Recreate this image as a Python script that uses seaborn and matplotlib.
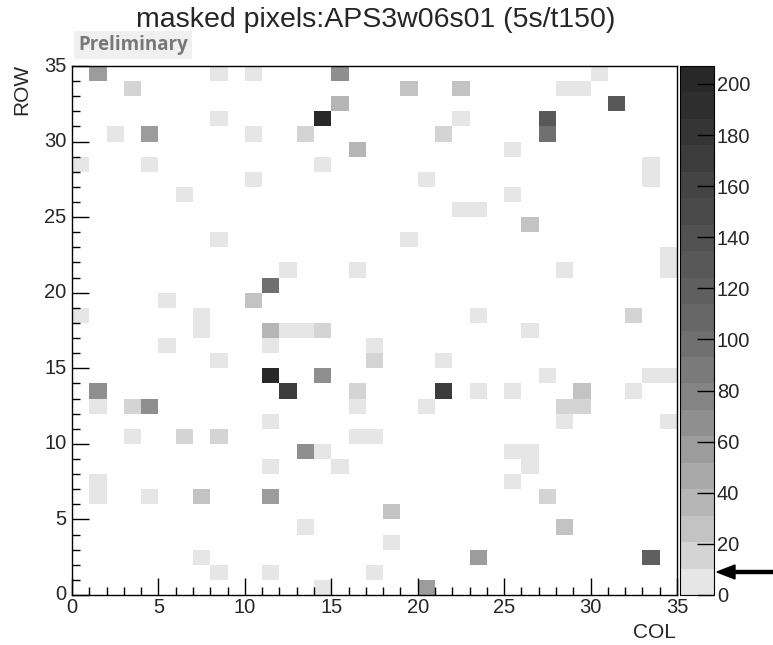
import numpy as np
import pandas as pd
import matplotlib
matplotlib.use("Agg")
import matplotlib.pyplot as plt
from matplotlib.colors import ListedColormap
import seaborn as sns

# ---- data: masked pixel counts (col, row, count) ----
cols = [1, 8, 10, 15, 30,
        3, 19, 22, 28, 29,
        15, 31,
        8, 14, 22, 27,
        2, 4, 10, 13, 21, 27,
        16, 25,
        0, 4, 14, 33,
        10, 20, 33,
        6, 25,
        22, 23,
        26,
        8, 19,
        34,
        12, 16, 28, 34,
        11,
        5, 10,
        0, 7, 23, 32,
        7, 11, 12, 13, 14, 26,
        5, 11, 17,
        8, 17, 21,
        11, 14, 27, 33, 34,
        1, 12, 16, 21, 23, 25, 29, 32,
        1, 3, 4, 16, 20, 28, 29,
        11, 28, 34,
        3, 6, 8, 16, 17,
        13, 14, 25, 26,
        11, 15, 26,
        1, 25,
        1, 4, 7, 11, 27,
        18,
        13, 28,
        18,
        7, 23, 33,
        8, 11, 17,
        14, 20]
rows = [34, 34, 34, 34, 34,
        33, 33, 33, 33, 33,
        32, 32,
        31, 31, 31, 31,
        30, 30, 30, 30, 30, 30,
        29, 29,
        28, 28, 28, 28,
        27, 27, 27,
        26, 26,
        25, 25,
        24,
        23, 23,
        22,
        21, 21, 21, 21,
        20,
        19, 19,
        18, 18, 18, 18,
        17, 17, 17, 17, 17, 17,
        16, 16, 16,
        15, 15, 15,
        14, 14, 14, 14, 14,
        13, 13, 13, 13, 13, 13, 13, 13,
        12, 12, 12, 12, 12, 12, 12,
        11, 11, 11,
        10, 10, 10, 10, 10,
        9, 9, 9, 9,
        8, 8, 8,
        7, 7,
        6, 6, 6, 6, 6,
        5,
        4, 4,
        3,
        2, 2, 2,
        1, 1, 1,
        0, 0]
counts = [55, 5, 5, 65, 5,
          15, 25, 25, 5, 5,
          38, 128,
          5, 205, 5, 128,
          5, 55, 5, 15, 15, 98,
          38, 5,
          5, 5, 5, 5,
          5, 5, 5,
          5, 5,
          5, 5,
          25,
          5, 5,
          5,
          5, 5, 5, 5,
          100,
          5, 25,
          5, 5, 5, 15,
          5, 38, 5, 5, 15, 5,
          5, 5, 5,
          5, 15, 5,
          202, 65, 5, 5, 5,
          65, 168, 15, 170, 5, 5, 25, 5,
          5, 15, 65, 5, 5, 15, 15,
          5, 5, 5,
          5, 15, 15, 5, 5,
          65, 5, 5, 5,
          5, 5, 5,
          5, 5,
          5, 5, 25, 55, 15,
          25,
          5, 25,
          5,
          5, 55, 118,
          5, 5, 5,
          5, 55]

z_ticks = [0, 20, 40, 60, 80, 100, 120, 140, 160, 180, 200]
axis_ticks = [0, 5, 10, 15, 20, 25, 30, 35]

n = 35
grid = np.zeros((n, n))
for c, r, v in zip(cols, rows, counts):
    grid[r, c] = v
df = pd.DataFrame(grid)

band_colors = ["#e6e6e6", "#d4d4d4", "#c3c3c3", "#b6b6b6", "#a9a9a9",
               "#9c9c9c", "#8f8f8f", "#848484", "#7a7a7a", "#707070",
               "#676767", "#5f5f5f", "#585858", "#515151", "#4a4a4a",
               "#444444", "#3c3c3c", "#353535", "#2e2e2e", "#282828"]
cmap = ListedColormap(band_colors)

sns.set_style("ticks")
plt.rcParams["font.family"] = ["Liberation Sans", "DejaVu Sans"]
plt.rcParams["axes.axisbelow"] = False

W, H = 773, 645
fig = plt.figure(figsize=(W / 100, H / 100), dpi=100)
x0, x1, y0, y1 = 72, 677, 66, 595
ax = fig.add_axes([x0 / W, (H - y1) / H, (x1 - x0) / W, (y1 - y0) / H])
cax = fig.add_axes([680 / W, (H - y1) / H, 34 / W, (y1 - y0) / H])

sns.heatmap(df, ax=ax, cbar_ax=cax, cmap=cmap, vmin=0, vmax=207,
            mask=(grid == 0), linewidths=0)

fs = 14.5
ax.set_xlim(0, n)
ax.set_ylim(0, n)
ax.set_xticks(axis_ticks)
ax.set_yticks(axis_ticks)
ax.set_xticklabels([str(t) for t in axis_ticks], rotation=0, fontsize=fs)
ax.set_yticklabels([str(t) for t in axis_ticks], rotation=0, fontsize=fs)
ax.set_xticks(np.arange(0, n + 1, 1), minor=True)
ax.set_yticks(np.arange(0, n + 1, 1), minor=True)
ax.tick_params(which="major", direction="in", length=12, width=1, color="black",
               left=True, bottom=True, top=False, right=False, pad=2)
ax.tick_params(which="minor", direction="in", length=6, width=1, color="black",
               left=True, bottom=True, top=False, right=False)
ax.tick_params(axis="y", pad=4)
ax.set_xlabel("")
ax.set_ylabel("")
ax.set_axisbelow(False)
for sp in ax.spines.values():
    sp.set_visible(True)
    sp.set_color("black")
    sp.set_linewidth(1)

cb = ax.collections[0].colorbar
cb.outline.set_linewidth(0.8)
cb.outline.set_edgecolor("black")
cb.set_ticks(z_ticks)
cb.set_ticklabels([str(t) for t in z_ticks])
cax.set_axisbelow(False)
cax.yaxis.set_ticks_position("right")
cax.yaxis.set_tick_params(which="major", direction="in", length=12, width=1,
                          color="black", labelsize=fs, pad=2, right=True,
                          left=False, labelright=True, labelleft=False)
cax.minorticks_off()

fig.text(376 / W, 1 - 20 / H, "masked pixels:APS3w06s01 (5s/t150)",
         ha="center", va="center", fontsize=20.5)
fig.text(78 / W, 1 - 45 / H, "Preliminary", ha="left", va="center",
         fontsize=13.5, fontweight="bold", color="#777777",
         family=["Open Sans", "DejaVu Sans"],
         bbox=dict(boxstyle="square,pad=0.2", facecolor="#f0f0f0",
                   edgecolor="none"))
fig.text(22 / W, 1 - 89 / H, "ROW", rotation=90, ha="center", va="center",
         fontsize=15)
fig.text(654 / W, 1 - 632 / H, "COL", ha="center", va="center", fontsize=15)

fig.patches.append(matplotlib.patches.FancyArrow(
    773 / W, 1 - 572 / H, -56 / W, 0, width=3 / H, head_width=14 / H,
    head_length=18 / W, length_includes_head=True, color="black",
    transform=fig.transFigure, figure=fig))

fig.savefig("out.png", dpi=100)
